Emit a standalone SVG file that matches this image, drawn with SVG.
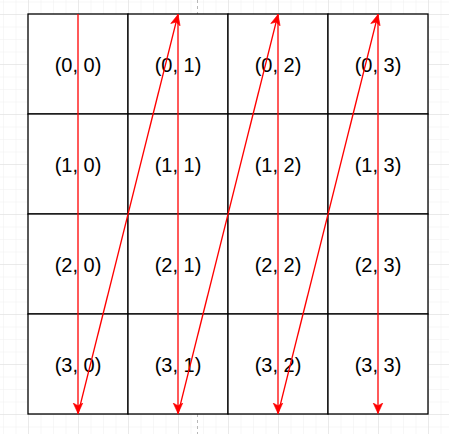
<svg xmlns="http://www.w3.org/2000/svg" width="449" height="434" viewBox="0 0 449 434">
<defs>
<pattern id="minor" x="3" y="1.5" width="12.5" height="12.5" patternUnits="userSpaceOnUse">
<path d="M0 0H12.5M0 0V12.5" fill="none" stroke="#f0f0f0" stroke-width="1"/>
</pattern>
<pattern id="major" x="28" y="14" width="50" height="50" patternUnits="userSpaceOnUse">
<path d="M0 0H50M0 0V50" fill="none" stroke="#dddddd" stroke-width="1"/>
</pattern>
<marker id="arr" viewBox="-11 -6 12 12" refX="0" refY="0" markerWidth="12" markerHeight="12" markerUnits="userSpaceOnUse" orient="auto">
<path d="M0 0L-10.5 -4.8L-7.8 0L-10.5 4.8Z" fill="#ff0000" stroke="#ff0000" stroke-width="0.6" stroke-linejoin="miter"/>
</marker>
</defs>
<style>
.cell rect{fill:#ffffff;stroke:#000000;stroke-width:1.3}
.cell text{font-family:"Liberation Sans",Arial,sans-serif;font-size:20px;fill:#000000;text-anchor:middle}
.conn line{stroke:#ff0000;stroke-width:1.3;fill:none;marker-end:url(#arr)}
</style>
<rect width="449" height="434" fill="#ffffff"/>
<rect width="449" height="434" fill="url(#minor)"/>
<rect width="449" height="434" fill="url(#major)"/>
<line x1="197.5" y1="0" x2="197.5" y2="434" stroke="#b8b8b8" stroke-width="1" stroke-dasharray="3 3"/>
<g id="cells">
<g id="c00" class="cell"><rect x="28" y="14" width="100" height="100"/><text x="78" y="71.5">(0, 0)</text></g>
<g id="c01" class="cell"><rect x="128" y="14" width="100" height="100"/><text x="178" y="71.5">(0, 1)</text></g>
<g id="c02" class="cell"><rect x="228" y="14" width="100" height="100"/><text x="278" y="71.5">(0, 2)</text></g>
<g id="c03" class="cell"><rect x="328" y="14" width="100" height="100"/><text x="378" y="71.5">(0, 3)</text></g>
<g id="c10" class="cell"><rect x="28" y="114" width="100" height="100"/><text x="78" y="171.5">(1, 0)</text></g>
<g id="c11" class="cell"><rect x="128" y="114" width="100" height="100"/><text x="178" y="171.5">(1, 1)</text></g>
<g id="c12" class="cell"><rect x="228" y="114" width="100" height="100"/><text x="278" y="171.5">(1, 2)</text></g>
<g id="c13" class="cell"><rect x="328" y="114" width="100" height="100"/><text x="378" y="171.5">(1, 3)</text></g>
<g id="c20" class="cell"><rect x="28" y="214" width="100" height="100"/><text x="78" y="271.5">(2, 0)</text></g>
<g id="c21" class="cell"><rect x="128" y="214" width="100" height="100"/><text x="178" y="271.5">(2, 1)</text></g>
<g id="c22" class="cell"><rect x="228" y="214" width="100" height="100"/><text x="278" y="271.5">(2, 2)</text></g>
<g id="c23" class="cell"><rect x="328" y="214" width="100" height="100"/><text x="378" y="271.5">(2, 3)</text></g>
<g id="c30" class="cell"><rect x="28" y="314" width="100" height="100"/><text x="78" y="371.5">(3, 0)</text></g>
<g id="c31" class="cell"><rect x="128" y="314" width="100" height="100"/><text x="178" y="371.5">(3, 1)</text></g>
<g id="c32" class="cell"><rect x="228" y="314" width="100" height="100"/><text x="278" y="371.5">(3, 2)</text></g>
<g id="c33" class="cell"><rect x="328" y="314" width="100" height="100"/><text x="378" y="371.5">(3, 3)</text></g>
</g>
<g id="connectors" class="conn">
<line x1="78" y1="14" x2="78" y2="413.5"/>
<line x1="78" y1="414" x2="178" y2="14.5"/>
<line x1="178" y1="14" x2="178" y2="413.5"/>
<line x1="178" y1="414" x2="278" y2="14.5"/>
<line x1="278" y1="14" x2="278" y2="413.5"/>
<line x1="278" y1="414" x2="378" y2="14.5"/>
<line x1="378" y1="14" x2="378" y2="413.5"/>
</g>
</svg>
